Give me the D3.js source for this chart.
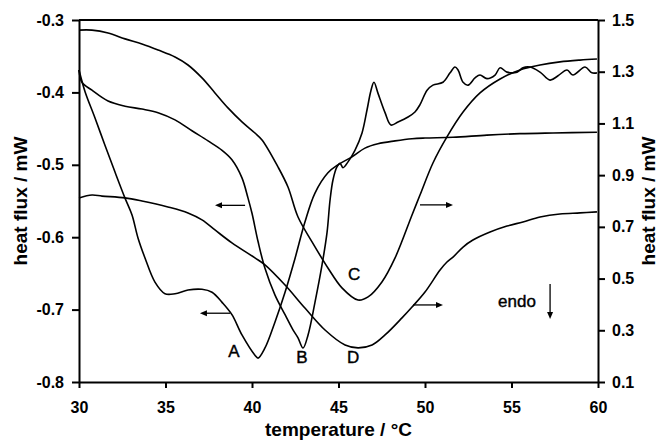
<!DOCTYPE html>
<html><head><meta charset="utf-8">
<script src="https://cdn.jsdelivr.net/npm/d3@7/dist/d3.min.js"></script>
<style>
body{margin:0;background:#fff}
svg{display:block}
text{font-family:"Liberation Sans",Arial,Helvetica,sans-serif}
</style>
</head><body>
<svg id="chart" width="660" height="440"></svg>
<script>
// ---- tick labels ----
const xTicks = [30, 35, 40, 45, 50, 55, 60];
const leftTicks = [-0.8, -0.7, -0.6, -0.5, -0.4, -0.3];
const rightTicks = [0.1, 0.3, 0.5, 0.7, 0.9, 1.1, 1.3, 1.5];

// ---- curve A (left axis) ----
const tempA = [30, 30.35, 30.92, 31.5, 32.08, 32.66, 33.06, 33.41, 33.82, 34.39, 34.97, 35.55, 36.3, 37.11, 37.69, 38.27, 38.84, 39.42, 40.17, 40.35, 40.75, 41.33, 41.91, 42.49, 43.06, 43.64, 44.39, 44.97, 45.78, 46.53, 47.28, 48.27, 49.25, 50.0, 51.62, 53.58, 55.49, 57.4, 59.94];
const fluxA = [-0.369, -0.399, -0.435, -0.473, -0.51, -0.546, -0.569, -0.601, -0.629, -0.662, -0.678, -0.678, -0.673, -0.672, -0.676, -0.69, -0.707, -0.735, -0.763, -0.767, -0.753, -0.717, -0.676, -0.629, -0.579, -0.539, -0.511, -0.5, -0.489, -0.477, -0.471, -0.467, -0.464, -0.463, -0.462, -0.459, -0.457, -0.456, -0.455];

// ---- curve B (left axis) ----
const tempB = [30, 30.17, 30.75, 31.68, 32.66, 33.64, 34.57, 35.55, 36.53, 37.46, 38.27, 38.84, 39.42, 39.77, 40.0, 40.35, 40.75, 41.33, 41.91, 42.37, 42.66, 42.95, 43.24, 43.64, 44.05, 44.34, 44.51, 44.68, 44.91, 45.09, 45.26, 45.55, 45.95, 46.36, 46.65, 46.88, 47.05, 47.28, 47.69, 48.03, 48.44, 49.02, 49.42, 49.71, 50.12, 50.46, 51.04, 51.45, 51.73, 51.91, 52.2, 52.49, 52.89, 53.18, 53.58, 54.05, 54.34, 54.74, 55.32, 55.66, 56.07, 56.65, 57.23, 57.69, 58.21, 58.55, 59.25, 59.65, 59.94];
const fluxB = [-0.369, -0.386, -0.397, -0.412, -0.419, -0.423, -0.428, -0.438, -0.453, -0.467, -0.48, -0.493, -0.518, -0.546, -0.567, -0.606, -0.643, -0.68, -0.707, -0.728, -0.739, -0.753, -0.735, -0.69, -0.638, -0.593, -0.549, -0.521, -0.503, -0.498, -0.504, -0.496, -0.48, -0.456, -0.424, -0.397, -0.386, -0.401, -0.428, -0.445, -0.441, -0.434, -0.427, -0.417, -0.397, -0.39, -0.386, -0.373, -0.365, -0.369, -0.386, -0.39, -0.38, -0.376, -0.381, -0.376, -0.366, -0.372, -0.372, -0.366, -0.365, -0.372, -0.383, -0.377, -0.369, -0.376, -0.365, -0.373, -0.373];

// ---- curve C (right axis) ----
const tempC = [30, 30.75, 31.68, 32.66, 33.64, 34.57, 35.55, 36.3, 37.11, 37.86, 38.61, 39.42, 40.17, 40.58, 41.5, 42.08, 42.66, 43.47, 44.39, 45.2, 46.13, 46.71, 47.51, 48.27, 49.25, 49.71, 50.46, 51.27, 52.2, 53.18, 54.34, 55.49, 56.65, 57.8, 58.96, 59.94];
const fluxC = [1.461, 1.461, 1.45, 1.427, 1.407, 1.384, 1.357, 1.326, 1.276, 1.218, 1.16, 1.106, 1.063, 1.036, 0.932, 0.854, 0.738, 0.642, 0.541, 0.464, 0.417, 0.429, 0.487, 0.58, 0.746, 0.823, 0.947, 1.048, 1.144, 1.218, 1.272, 1.307, 1.326, 1.338, 1.345, 1.349];

// ---- curve D (right axis) ----
const tempD = [30, 30.75, 31.33, 32.66, 33.64, 35.14, 36.3, 37.11, 37.86, 38.84, 40.17, 40.75, 41.91, 43.06, 44.22, 45.38, 46.13, 46.94, 47.69, 48.67, 49.25, 50.0, 50.87, 51.27, 51.62, 52.2, 52.77, 53.76, 54.74, 55.66, 56.65, 57.8, 58.96, 59.94];
const fluxD = [0.812, 0.823, 0.819, 0.812, 0.8, 0.777, 0.754, 0.727, 0.688, 0.638, 0.58, 0.553, 0.475, 0.386, 0.301, 0.243, 0.232, 0.243, 0.282, 0.348, 0.39, 0.448, 0.533, 0.564, 0.583, 0.622, 0.649, 0.68, 0.703, 0.719, 0.738, 0.75, 0.754, 0.758];

// ---- annotations (data coordinates) ----
const curveLabels = ["A", "B", "C", "D"];
const labelTemp = [38.96, 42.89, 45.90, 45.84];
const labelFlux = [-0.765, -0.774, 0.495, 0.174];
const labelAxis = ["left", "left", "right", "right"];
const arrowStart = [38.73, 39.60, 49.71, 49.31];
const arrowEnd = [36.99, 37.86, 51.62, 51.04];
const arrowFlux = [-0.705, -0.556, 0.785, 0.398];
const endoTemp = 55.32, endoFlux = 0.39;
const endoArrowTemp = 57.23, endoArrowFrom = 0.479, endoArrowTo = 0.344;

const svg = d3.select("#chart");
const L = 79, R = 598, T = 20, B = 382;
const x = d3.scaleLinear().domain([30, 60]).range([L, R]);
const yL = d3.scaleLinear().domain([-0.8, -0.3]).range([B, T]);
const yR = d3.scaleLinear().domain([0.1, 1.5]).range([B, T]);

// top frame line
svg.append("line").attr("x1", L).attr("x2", R).attr("y1", T).attr("y2", T)
  .attr("stroke", "#000").attr("stroke-width", 2);

function styleAxis(g) {
  g.selectAll("path.domain").attr("stroke", "#000").attr("stroke-width", 2);
  g.selectAll(".tick line").attr("stroke", "#000").attr("stroke-width", 2);
  g.selectAll(".tick text").attr("fill", "#000").style("font-size", "16px")
    .style("font-weight", "bold").style("font-family", '"Liberation Sans",Arial,sans-serif');
}

svg.append("g").attr("transform", `translate(0,${B})`)
  .call(d3.axisBottom(x).tickValues(xTicks).tickSize(6).tickSizeOuter(0).tickPadding(14).tickFormat(d3.format("d")))
  .call(styleAxis);
svg.append("g").attr("transform", `translate(${L},0)`)
  .call(d3.axisLeft(yL).tickValues(leftTicks).tickSize(7).tickSizeOuter(0).tickPadding(8).tickFormat(d => d.toFixed(1)))
  .call(styleAxis);
svg.append("g").attr("transform", `translate(${R},0)`)
  .call(d3.axisRight(yR).tickValues(rightTicks).tickSize(7).tickSizeOuter(0).tickPadding(7).tickFormat(d => d.toFixed(1)))
  .call(styleAxis);

// axis titles
svg.append("text").attr("x", (L + R) / 2).attr("y", 436).attr("text-anchor", "middle")
  .style("font-size", "19px").style("font-weight", "bold").text("temperature / °C");
svg.append("text").attr("transform", `translate(27,${(T + B) / 2}) rotate(-90)`).attr("text-anchor", "middle")
  .style("font-size", "19px").style("font-weight", "bold").text("heat flux / mW");
svg.append("text").attr("transform", `translate(655,${(T + B) / 2}) rotate(-90)`).attr("text-anchor", "middle")
  .style("font-size", "19px").style("font-weight", "bold").text("heat flux / mW");

// curves
function drawCurve(ts, fs, yScale) {
  const pts = ts.map((t, i) => [t, fs[i]]);
  const line = d3.line().x(d => x(d[0])).y(d => yScale(d[1])).curve(d3.curveCatmullRom.alpha(0.5));
  svg.append("path").datum(pts).attr("d", line).attr("fill", "none")
    .attr("stroke", "#000").attr("stroke-width", 1.6).attr("stroke-linejoin", "round");
}
drawCurve(tempA, fluxA, yL);
drawCurve(tempB, fluxB, yL);
drawCurve(tempC, fluxC, yR);
drawCurve(tempD, fluxD, yR);

// arrows
function arrow(x1, y1, x2, y2) {
  const dx = x2 - x1, dy = y2 - y1, len = Math.hypot(dx, dy);
  const ux = dx / len, uy = dy / len, hl = 7, hw = 3;
  svg.append("line").attr("x1", x1).attr("y1", y1).attr("x2", x2 - ux * hl * 0.8).attr("y2", y2 - uy * hl * 0.8)
    .attr("stroke", "#000").attr("stroke-width", 1.3);
  const bx = x2 - ux * hl, by = y2 - uy * hl;
  svg.append("path").attr("d", `M${x2},${y2}L${bx - uy * hw},${by + ux * hw}L${bx + uy * hw},${by - ux * hw}Z`).attr("fill", "#000");
}
curveLabels.forEach((lab, i) => {
  const ys = labelAxis[i] === "left" ? yL : yR;
  svg.append("text").attr("x", x(labelTemp[i])).attr("y", ys(labelFlux[i])).attr("text-anchor", "middle")
    .style("font-size", "17px").attr("stroke", "#000").attr("stroke-width", 0.4).text(lab);
  arrow(x(arrowStart[i]), ys(arrowFlux[i]), x(arrowEnd[i]), ys(arrowFlux[i]));
});
svg.append("text").attr("x", x(endoTemp)).attr("y", yR(endoFlux)).attr("text-anchor", "middle")
  .style("font-size", "17px").attr("stroke", "#000").attr("stroke-width", 0.4).text("endo");
arrow(x(endoArrowTemp), yR(endoArrowFrom), x(endoArrowTemp), yR(endoArrowTo));
</script>
</body></html>
